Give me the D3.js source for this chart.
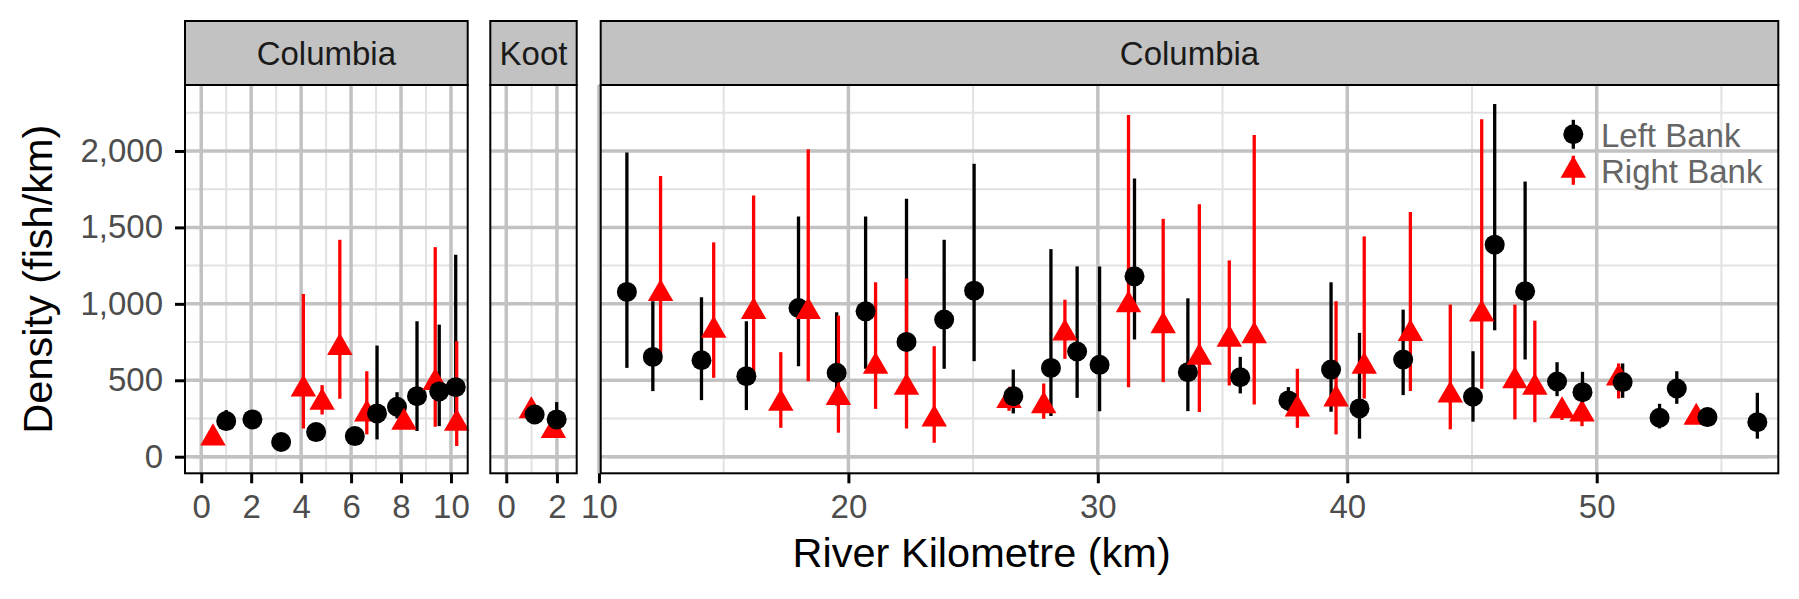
<!DOCTYPE html>
<html>
<head>
<meta charset="utf-8">
<script src="https://cdn.jsdelivr.net/npm/d3@7"></script>
<style>
body { margin: 0; background: #fff; }
text { font-family: "Liberation Sans", Arial, Helvetica, sans-serif; }
</style>
</head>
<body>
<div id="canvas"></div>
<script>
// ---- data ----
const stripLabels = ["Columbia", "Koot", "Columbia"];
const xTicks = [[0, 2, 4, 6, 8, 10], [0, 2], [10, 20, 30, 40, 50]];
const xMinor = [[1, 3, 5, 7, 9], [1], [15, 25, 35, 45, 55]];
const yTicks = [0, 500, 1000, 1500, 2000];
const yMinor = [250, 750, 1250, 1750, 2250];
const bankNames = ["Left Bank", "Right Bank"];

// Left Bank
const leftPanel = [0,0,0,0,0,0,0,0,0,0, 1,1,
  2,2,2,2,2,2,2,2,2,2,2,2,2,2,2,2,2,2,2,2,2,2,2,2,2,2,2,2,2,2,2];
const leftKm = [1.0, 2.05, 3.2, 4.6, 6.15, 7.04, 7.84, 8.64, 9.53, 10.19,
  1.12, 1.99,
  11.12, 12.16, 14.11, 15.91, 18.0, 19.53, 20.69, 22.33, 23.84, 25.04, 26.61, 28.12,
  29.17, 30.07, 31.47, 33.61, 35.71, 37.64, 39.35, 40.49, 42.24, 45.04, 45.91, 47.13,
  48.41, 49.43, 51.04, 52.52, 53.21, 54.44, 56.44];
const leftDensity = [233, 244, 96, 161, 135, 283, 327, 396, 427, 455,
  276, 244,
  1078, 653, 631, 527, 973, 549, 951, 751, 897, 1086, 396, 581,
  688, 601, 1180, 553, 520, 368, 570, 316, 636, 392, 1387, 1082,
  492, 422, 488, 255, 446, 259, 226];
const leftLower = [180, 205, 80, 140, 115, 113, 250, 168, 200, 260,
  240, 135,
  581, 429, 370, 305, 592, 335, 575, 500, 575, 625, 283, 266,
  385, 298, 766, 298, 414, 298, 294, 118, 403, 229, 827, 636,
  396, 331, 385, 185, 346, 200, 118];
const leftUpper = [305, 285, 115, 185, 160, 727, 422, 886, 864, 1321,
  310, 357,
  1990, 1017, 1043, 886, 1572, 945, 1572, 1687, 1419, 1916, 570, 1358,
  1245, 1245, 1820, 1036, 653, 455, 1141, 810, 962, 690, 2307, 1800,
  618, 555, 610, 346, 559, 320, 418];

// Right Bank
const rightPanel = [0,0,0,0,0,0,0,0, 1,1,
  2,2,2,2,2,2,2,2,2,2,2,2,2,2,2,2,2,2,2,2,2,2,2,2,2,2,2,2,2];
const rightKm = [0.47, 4.09, 4.84, 5.55, 6.63, 8.12, 9.37, 10.23,
  0.99, 1.86,
  12.47, 14.6, 16.2, 17.29, 18.39, 19.6, 21.09, 22.33, 23.44, 26.44, 27.83, 28.68,
  31.23, 32.62, 34.07, 35.27, 36.27, 38.0, 39.55, 40.68, 42.53, 44.13, 45.39, 46.72,
  47.52, 48.61, 49.41, 50.88, 53.99];
const rightDensity = [122, 442, 355, 714, 279, 224, 485, 218,
  300, 170,
  1067, 827, 949, 348, 949, 387, 590, 453, 246, 366, 333, 808,
  993, 855, 649, 768, 790, 311, 377, 590, 805, 403, 932, 496,
  453, 300, 279, 514, 257];
const rightLower = [100, 185, 276, 379, 146, 190, 196, 70,
  270, 124,
  679, 516, 549, 189, 494, 157, 313, 185, 91, 300, 248, 640,
  455, 488, 292, 466, 342, 189, 146, 380, 429, 179, 444, 244,
  226, 240, 200, 381, 220];
const rightUpper = [145, 1064, 468, 1419, 559, 260, 1371, 755,
  330, 220,
  1837, 1402, 1709, 684, 2011, 923, 1141, 1165, 723, 430, 479, 1027,
  2236, 1556, 1652, 1284, 2105, 575, 1017, 1441, 1600, 995, 2207, 995,
  890, 360, 340, 610, 295];

// extent of the grey line drawn at zero density in each panel
const zeroFrom = [-0.3, -0.3, 10.4];
const zeroTo = [10.3, 2.5, 56.9];

// ---- layout ----
const width = 1799;
const height = 599;
const panelTop = 85;
const panelBottom = 473.3;
const stripTop = 21;
const panelX = [[185, 467.7], [490.3, 576.7], [600.7, 1778.3]];
const xDomains = [[-0.65, 10.67], [-0.63, 2.78], [10.07, 57.28]];
const bankColor = ["#000000", "#ff0000"];

const svg = d3.select("#canvas").append("svg")
  .attr("width", width)
  .attr("height", height);
svg.append("rect").attr("width", width).attr("height", height).attr("fill", "#fff");

const y = d3.scaleLinear().domain([-108.6, 2425]).range([panelBottom, 86]);

const rows = [];
leftKm.forEach((k, i) => rows.push({bank: 0, panel: leftPanel[i], km: k,
  v: leftDensity[i], lo: leftLower[i], hi: leftUpper[i]}));
rightKm.forEach((k, i) => rows.push({bank: 1, panel: rightPanel[i], km: k,
  v: rightDensity[i], lo: rightLower[i], hi: rightUpper[i]}));

const tri = d3.symbol().type(d3.symbolTriangle).size(281);

panelX.forEach((px, p) => {
  const x = d3.scaleLinear().domain(xDomains[p]).range(px);
  const g = svg.append("g");
  const pw = px[1] - px[0];

  // minor grid
  g.selectAll(".vmin").data(xMinor[p]).enter().append("line")
    .attr("x1", d => x(d)).attr("x2", d => x(d))
    .attr("y1", panelTop).attr("y2", panelBottom)
    .attr("stroke", "#e2e2e2").attr("stroke-width", 2);
  g.selectAll(".hmin").data(yMinor).enter().append("line")
    .attr("x1", px[0]).attr("x2", px[1])
    .attr("y1", d => y(d)).attr("y2", d => y(d))
    .attr("stroke", "#e2e2e2").attr("stroke-width", 2);
  // major grid
  g.selectAll(".vmaj").data(xTicks[p]).enter().append("line")
    .attr("x1", d => x(d)).attr("x2", d => x(d))
    .attr("y1", panelTop).attr("y2", panelBottom)
    .attr("stroke", "#c2c2c2").attr("stroke-width", 3.5);
  g.selectAll(".hmaj").data(yTicks).enter().append("line")
    .attr("x1", px[0]).attr("x2", px[1])
    .attr("y1", d => y(d)).attr("y2", d => y(d))
    .attr("stroke", "#c2c2c2").attr("stroke-width", 3.5);

  // zero line
  g.append("line")
    .attr("x1", x(zeroFrom[p])).attr("x2", x(zeroTo[p]))
    .attr("y1", y(0)).attr("y2", y(0))
    .attr("stroke", "#c2c2c2").attr("stroke-width", 3.5);

  const data = rows.filter(d => d.panel === p);

  // error bars, left bank first then right bank
  const bars = data.slice().sort((a, b) => a.bank - b.bank);
  g.selectAll(".err").data(bars).enter().append("line")
    .attr("x1", d => x(d.km)).attr("x2", d => x(d.km))
    .attr("y1", d => y(d.lo)).attr("y2", d => y(d.hi))
    .attr("stroke", d => bankColor[d.bank])
    .attr("stroke-width", 3.3);

  // points
  const pts = data.slice().sort((a, b) => a.km - b.km);
  pts.forEach(d => {
    if (d.bank === 0) {
      g.append("circle").attr("cx", x(d.km)).attr("cy", y(d.v)).attr("r", 10)
        .attr("fill", bankColor[0]);
    } else {
      g.append("path").attr("d", tri)
        .attr("transform", `translate(${x(d.km)},${y(d.v)})`)
        .attr("fill", bankColor[1]);
    }
  });

  // panel border
  g.append("rect")
    .attr("x", px[0]).attr("y", panelTop).attr("width", pw).attr("height", panelBottom - panelTop)
    .attr("fill", "none").attr("stroke", "#000").attr("stroke-width", 2);

  // strip
  g.append("rect")
    .attr("x", px[0]).attr("y", stripTop).attr("width", pw).attr("height", panelTop - stripTop)
    .attr("fill", "#c2c2c2").attr("stroke", "#000").attr("stroke-width", 2);
  g.append("text")
    .attr("x", (px[0] + px[1]) / 2).attr("y", 65)
    .attr("text-anchor", "middle")
    .attr("font-size", 33).attr("fill", "#1a1a1a")
    .text(stripLabels[p]);

  // x axis
  const ax = svg.append("g")
    .attr("transform", `translate(0,${panelBottom})`)
    .call(d3.axisBottom(x).tickValues(xTicks[p]).tickFormat(d3.format("d"))
      .tickSize(10).tickPadding(11));
  ax.select(".domain").remove();
  ax.selectAll(".tick line").attr("stroke", "#000").attr("stroke-width", 3);
  ax.selectAll(".tick text").attr("font-size", 33).attr("fill", "#4d4d4d")
    .attr("font-family", "Liberation Sans, Arial, sans-serif");
});

// y axis
const ay = svg.append("g")
  .attr("transform", `translate(${panelX[0][0]},0)`)
  .call(d3.axisLeft(y).tickValues(yTicks).tickFormat(d3.format(",")).tickSize(10).tickPadding(12));
ay.select(".domain").remove();
ay.selectAll(".tick line").attr("stroke", "#000").attr("stroke-width", 3);
ay.selectAll(".tick text").attr("font-size", 33).attr("fill", "#4d4d4d")
  .attr("font-family", "Liberation Sans, Arial, sans-serif");

// axis titles
svg.append("text")
  .attr("x", (panelX[0][0] + panelX[2][1]) / 2).attr("y", 567)
  .attr("text-anchor", "middle").attr("font-size", 41.5).attr("fill", "#000")
  .text("River Kilometre (km)");
svg.append("text")
  .attr("transform", `translate(52,${(panelTop + panelBottom) / 2}) rotate(-90)`)
  .attr("text-anchor", "middle").attr("font-size", 41.5).attr("fill", "#000")
  .text("Density (fish/km)");

// legend
const legend = svg.append("g").attr("transform", "translate(1573.3,134.3)");
bankNames.forEach((name, i) => {
  const k = legend.append("g").attr("transform", `translate(0,${i * 36})`);
  k.append("line").attr("x1", 0).attr("x2", 0).attr("y1", -14.5).attr("y2", 14.5)
    .attr("stroke", bankColor[i]).attr("stroke-width", 3.3);
  if (i === 0) {
    k.append("circle").attr("r", 10).attr("fill", bankColor[i]);
  } else {
    k.append("path").attr("d", tri).attr("fill", bankColor[i]);
  }
  k.append("text").attr("x", 27.7).attr("y", 12.4)
    .attr("font-size", 33).attr("fill", "#666")
    .text(name);
});
</script>
</body>
</html>
